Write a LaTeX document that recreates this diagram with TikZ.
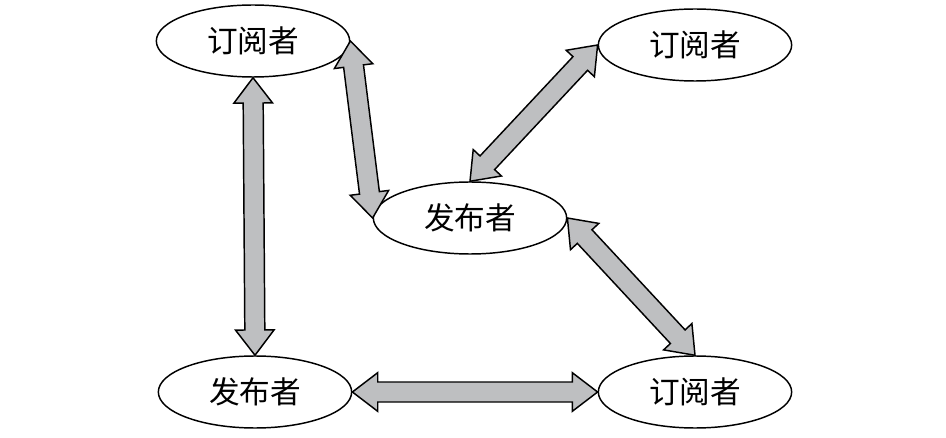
\documentclass[tikz,border=0pt]{standalone}
\usepackage{fontspec}
\newfontfamily\cjk{Noto Sans CJK SC}
\usetikzlibrary{shapes.geometric,calc}
\definecolor{arr_gray}{RGB}{190, 191, 193}
\tikzstyle{ell}=[ellipse,draw=black,line width=1.1pt,fill=white,
  minimum width=145pt,minimum height=54pt,inner sep=0pt,
  font=\cjk\fontsize{23}{26}\selectfont]
\tikzstyle{blk}=[draw=black,fill=arr_gray,line width=1.1pt,line join=miter]
\newcommand{\hl}{19pt}
\newcommand{\hw}{14.5pt}
\newcommand{\sw}{7.5pt}
\newcommand{\dblarrow}[2]{%
  \coordinate (p1) at ($(#1)!\hl!(#2)$);
  \coordinate (p2) at ($(#2)!\hl!(#1)$);
  \draw[blk] (#1) -- ($(p1)!\hw!90:(#1)$) -- ($(p1)!\sw!90:(#1)$)
    -- ($(p2)!\sw!-90:(#2)$) -- ($(p2)!\hw!-90:(#2)$) -- (#2)
    -- ($(p2)!\hw!90:(#2)$) -- ($(p2)!\sw!90:(#2)$)
    -- ($(p1)!\sw!-90:(#1)$) -- ($(p1)!\hw!-90:(#1)$) -- cycle;}

\begin{document}
\begin{tikzpicture}[x=0.75pt,y=-0.75pt]
        \useasboundingbox (0,0) rectangle (946,438);
        \node [style=ell] (sub1) at (253,41) {订阅者};
        \node [style=ell] (sub2) at (695,45) {订阅者};
        \node [style=ell] (pub1) at (470,218) {发布者};
        \node [style=ell] (pub2) at (255,392) {发布者};
        \node [style=ell] (sub3) at (695,392) {订阅者};
        \dblarrow{sub1.south}{pub2.north}
        \dblarrow{sub1.east}{pub1.west}
        \dblarrow{sub2.west}{pub1.north}
        \dblarrow{pub1.east}{sub3.north}
        \dblarrow{pub2.east}{sub3.west}
    \end{tikzpicture}
\end{document}
